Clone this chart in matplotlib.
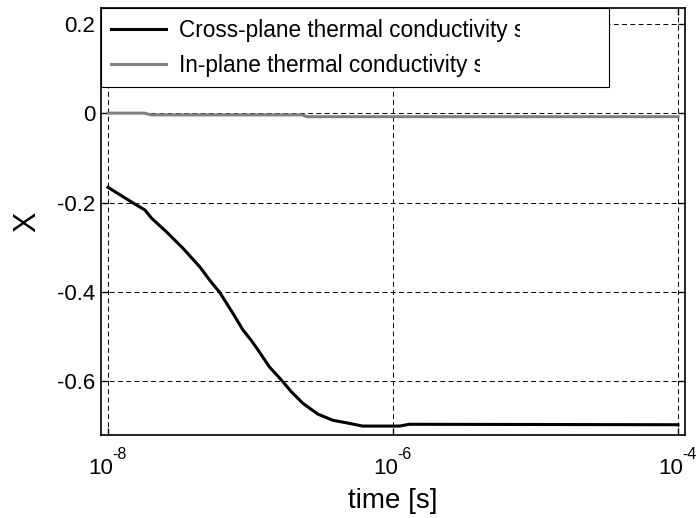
import matplotlib
matplotlib.use("Agg")
import matplotlib.pyplot as plt
from matplotlib.ticker import NullLocator
from matplotlib.transforms import Bbox

plt.rcParams['font.family'] = ['Liberation Sans', 'DejaVu Sans']
plt.rcParams['axes.unicode_minus'] = False

# cross-plane sensitivity vs time
t_cross = [1.0e-8, 1.50e-8, 1.82e-8, 2.02e-8, 2.58e-8, 3.35e-8, 4.41e-8, 5.18e-8,
           6.08e-8, 7.53e-8, 8.85e-8, 1.01e-7, 1.13e-7, 1.36e-7, 1.69e-7, 1.93e-7,
           2.33e-7, 2.96e-7, 3.78e-7, 4.95e-7, 6.12e-7, 1.11e-6, 1.30e-6, 1.0e-4]
x_cross = [-0.166, -0.201, -0.217, -0.235, -0.266, -0.302, -0.344, -0.374,
           -0.401, -0.448, -0.485, -0.508, -0.530, -0.568, -0.601, -0.623,
           -0.649, -0.673, -0.687, -0.694, -0.700, -0.700, -0.696, -0.697]

# in-plane sensitivity vs time
t_in = [1.0e-8, 1.8e-8, 2.0e-8, 2.3e-7, 2.5e-7, 1.0e-4]
x_in = [0.0, 0.0, -0.004, -0.004, -0.008, -0.008]

xticks = [1e-8, 1e-6, 1e-4]
xtick_exponents = ['-8', '-6', '-4']
yticks = [0.2, 0, -0.2, -0.4, -0.6]
ytick_labels = ['0.2', '0', '-0.2', '-0.4', '-0.6']
legend_labels = ['Cross-plane thermal conductivity s', 'In-plane thermal conductivity s']

fig = plt.figure(figsize=(6.99, 5.18), dpi=100)
ax = fig.add_axes([0.1445, 0.1602, 0.8355, 0.8234])

ax.plot(t_cross, x_cross, color='k', lw=2.2, label=legend_labels[0])
ax.plot(t_in, x_in, color='#808080', lw=2.2, label=legend_labels[1])

ax.set_xscale('log')
ax.set_xlim(8.93e-9, 1.12e-4)
ax.set_ylim(-0.72, 0.234)
ax.set_xticks(xticks)
ax.set_xticklabels([])
ax.xaxis.set_minor_locator(NullLocator())
ax.set_yticks(yticks)
ax.set_yticklabels(ytick_labels)
ax.tick_params(direction='in', length=5, width=1, labelsize=16, top=True, right=True, pad=4)
ax.grid(True, color='k', linestyle=(0, (5, 3.5)), linewidth=0.7)
for sp in ax.spines.values():
    sp.set_linewidth(1.2)

# x tick labels as "10" with a raised exponent
for t, e in zip(xticks, xtick_exponents):
    ax.annotate('10', xy=(t, 0), xycoords=('data', 'axes fraction'), xytext=(4, -16.5),
                textcoords='offset points', ha='right', va='top', fontsize=16)
    ax.annotate(e, xy=(t, 0), xycoords=('data', 'axes fraction'), xytext=(3.2, -8.4),
                textcoords='offset points', ha='left', va='top', fontsize=11.5)

ax.set_xlabel('time [s]', fontsize=20)
ax.xaxis.set_label_coords(0.5, -0.124)
ax.set_ylabel('X', fontsize=22)
ax.yaxis.set_label_coords(-0.10, 0.5)

leg = ax.legend(loc='upper left', bbox_to_anchor=(0, 0, 0.87, 1), mode='expand',
                borderaxespad=0, fancybox=False, framealpha=1, edgecolor='k',
                fontsize=16.3, handlelength=2.4, handletextpad=0.58, borderpad=0.45,
                labelspacing=0.53)
leg.get_frame().set_linewidth(0.8)

# each legend entry is cut off halfway through its last letter
fig.canvas.draw()
for txt in leg.get_texts():
    bb = txt.get_window_extent()
    txt.set_clip_box(Bbox.from_extents(bb.x0 - 5, bb.y0 - 5, bb.x1 - 5, bb.y1 + 5))
    txt.set_clip_on(True)

fig.savefig('out.png', dpi=100)
